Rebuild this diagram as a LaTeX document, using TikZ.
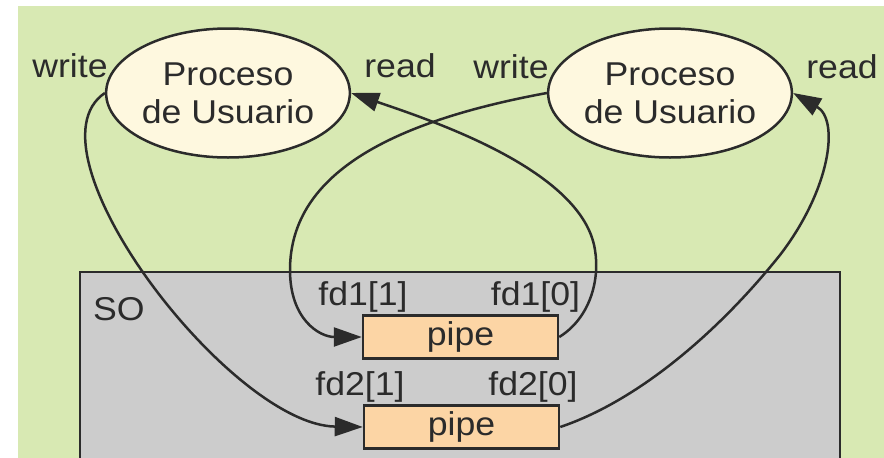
\documentclass[tikz,border=0pt]{standalone}
\usepackage{fontspec}
\setmainfont[FakeStretch=1.08]{Liberation Sans}
\usetikzlibrary{arrows.meta,shapes.geometric}
\definecolor{bggreen}{HTML}{D8E9B3}
\definecolor{cream}{HTML}{FEF8DF}
\definecolor{sogray}{HTML}{CCCCCC}
\definecolor{peach}{HTML}{FCD5A5}
\definecolor{ink}{HTML}{2B2B2B}
\tikzset{
  txt/.style={font=\fontsize{33}{38}\selectfont, text=ink, inner sep=0pt},
  proc/.style={ellipse, draw=ink, line width=2.5pt, fill=cream, minimum width=230pt,
    minimum height=129pt, inner sep=0pt, align=center, txt},
  pipebox/.style={rectangle, draw=ink, line width=2.5pt, fill=peach, minimum width=195pt,
    minimum height=43pt, inner sep=0pt, txt},
  conn/.style={draw=ink, line width=2.5pt, -{Triangle[length=28pt,width=19pt]}},
  lbl/.style={txt, anchor=base}
}
\begin{document}
\begin{tikzpicture}[x=1pt,y=-1pt]
\useasboundingbox (0,0) rectangle (884,458);
\clip (0,0) rectangle (884,458);
\fill[bggreen] (18,6) rectangle (884,470);
\draw[draw=ink, line width=2.5pt, fill=sogray] (80,272) rectangle (840,520);
\node[txt, anchor=base west] (so) at (93,320) {SO};
\node[proc] (e1) at (228,93) {Proceso\\de Usuario};
\node[proc] (e2) at (670,93) {Proceso\\de Usuario};
\node[pipebox] (p1) at (460.5,337) {pipe};
\node[pipebox] (p2) at (461.5,427) {pipe};
\node[lbl] (w1) at (70,77) {write};
\node[lbl] (r1) at (400,77) {read};
\node[lbl] (w2) at (511,78) {write};
\node[lbl] (r2) at (842,78) {read};
\node[lbl] (f11) at (363,305) {fd1[1]};
\node[lbl] (f10) at (535.5,305) {fd1[0]};
\node[lbl] (f21) at (360,395) {fd2[1]};
\node[lbl] (f20) at (533,395) {fd2[0]};
\draw[conn] (e1.west) .. controls (20,150) and (230,425) .. (p2.west);
\draw[conn] (e2.west) .. controls (400,120) and (290,170) .. (290,270)
  .. controls (290,320) and (320,337) .. (p1.west);
\draw[conn] (p1.east) .. controls (590,318) and (600,280) .. (595,250)
  .. controls (583,170) and (430,120) .. (e1.east);
\draw[conn] (p2.east) .. controls (640,400) and (720,330) .. (780,255)
  .. controls (830,190) and (840,120) .. (e2.east);
\end{tikzpicture}
\end{document}
